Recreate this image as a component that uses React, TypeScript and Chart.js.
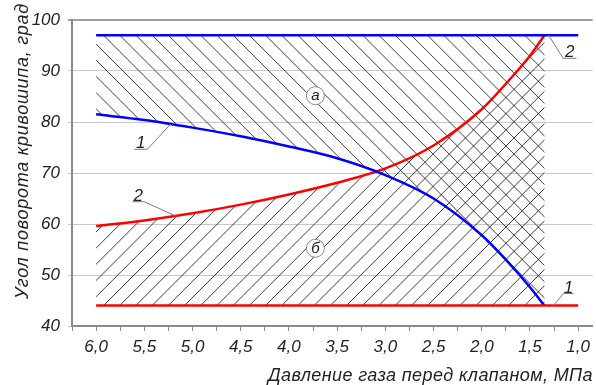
import { useEffect, useRef } from 'react';
import { Chart, registerables } from 'chart.js';

Chart.register(...registerables);

const FONT = "'Liberation Sans', Arial, sans-serif";

// Axis ranges: gas pressure (MPa, shown in reverse) and crank angle (degrees)
const pressureMin = 0.85;
const pressureMax = 6.25;
const pressureStep = 0.25;
const angleMin = 40;
const angleMax = 100;
const angleStep = 10;

// Horizontal limits
const limitPressure = [6.0, 1.0];
const upperLimitAngle = 97;
const lowerLimitAngle = 44;

// Curve 1 (blue)
const curve1Pressure = [6.0, 5.5, 5.0, 4.5, 4.0, 3.5, 3.0, 2.5, 2.0, 1.75, 1.5, 1.35];
const curve1Angle = [81.5, 80.4, 78.9, 77.2, 75.2, 72.9, 69.6, 65.0, 57.8, 53.0, 47.6, 44.0];

// Curve 2 (red)
const curve2Pressure = [6.0, 5.5, 5.0, 4.5, 4.0, 3.5, 3.0, 2.5, 2.0, 1.75, 1.5, 1.35];
const curve2Angle = [59.6, 60.7, 62.1, 63.8, 65.8, 68.1, 70.9, 75.4, 82.5, 87.5, 93.0, 97.0];

// Numbered callouts: point on the line -> elbow -> end of the shelf
const calloutText = ['1', '2', '2', '1'];
const calloutPointX = [5.227, 5.175, 1.309, 1.258];
const calloutPointY = [79.6, 61.57, 97.06, 43.98];
const calloutElbowX = [5.468, 5.502, 1.155, 1.152];
const calloutElbowY = [74.65, 64.37, 92.49, 46.37];
const calloutShelfEndX = [5.605, 5.623, 1.018, 1.049];

// Region markers
const regionText = ['а', 'б'];
const regionPressure = [3.726, 3.726];
const regionAngle = [85.16, 55.24];

const xTitle = 'Давление газа перед клапаном, МПа';
const yTitle = 'Угол поворота кривошипа, град';

const toPoints = (xs: number[], ys: number[]) => xs.map((x, i) => ({ x, y: ys[i] }));

function hatch(ctx: CanvasRenderingContext2D, area: any, dir: number, phase: number, step: number) {
  const { left, right, top, bottom } = area;
  ctx.beginPath();
  if (dir < 0) {
    // "\" lines: y = x + c
    const cMin = top - right;
    const cMax = bottom - left;
    for (let c = phase + Math.ceil((cMin - phase) / step) * step; c <= cMax; c += step) {
      ctx.moveTo(left, left + c);
      ctx.lineTo(right, right + c);
    }
  } else {
    // "/" lines: y = c - x
    const cMin = left + top;
    const cMax = right + bottom;
    for (let c = phase + Math.ceil((cMin - phase) / step) * step; c <= cMax; c += step) {
      ctx.moveTo(left, c - left);
      ctx.lineTo(right, c - right);
    }
  }
  ctx.stroke();
}

const hatchPlugin = {
  id: 'regionHatch',
  beforeDatasetsDraw(chart: any) {
    const { ctx, chartArea } = chart;
    const x = chart.scales.x;
    const y = chart.scales.y;
    const line1 = chart.getDatasetMeta(2).dataset;
    const line2 = chart.getDatasetMeta(3).dataset;
    if (line1.updateControlPoints) line1.updateControlPoints(chartArea, 'x');
    if (line2.updateControlPoints) line2.updateControlPoints(chartArea, 'x');

    const n1 = curve1Pressure.length - 1;
    const n2 = curve2Pressure.length - 1;
    const step = 16.2;

    ctx.save();
    ctx.strokeStyle = 'rgba(40,40,40,0.9)';
    ctx.lineWidth = 1;

    // Region а: between the upper limit and curve 1
    ctx.save();
    ctx.beginPath();
    line1.path(ctx);
    ctx.lineTo(x.getPixelForValue(curve1Pressure[n1]), y.getPixelForValue(upperLimitAngle));
    ctx.lineTo(x.getPixelForValue(curve1Pressure[0]), y.getPixelForValue(upperLimitAngle));
    ctx.closePath();
    ctx.clip();
    hatch(ctx, chartArea, -1, -181.7 % step, step);
    ctx.restore();

    // Region б: between curve 2 and the lower limit
    ctx.save();
    ctx.beginPath();
    line2.path(ctx);
    ctx.lineTo(x.getPixelForValue(curve2Pressure[n2]), y.getPixelForValue(lowerLimitAngle));
    ctx.lineTo(x.getPixelForValue(curve2Pressure[0]), y.getPixelForValue(lowerLimitAngle));
    ctx.closePath();
    ctx.clip();
    hatch(ctx, chartArea, 1, 409 % step, step);
    ctx.restore();

    // Circled region letters
    ctx.font = `italic 15px ${FONT}`;
    ctx.textAlign = 'center';
    ctx.textBaseline = 'middle';
    regionText.forEach((t, i) => {
      const px = x.getPixelForValue(regionPressure[i]);
      const py = y.getPixelForValue(regionAngle[i]);
      ctx.beginPath();
      ctx.arc(px, py, 9, 0, Math.PI * 2);
      ctx.fillStyle = '#ffffff';
      ctx.fill();
      ctx.strokeStyle = '#8a8a8a';
      ctx.lineWidth = 1;
      ctx.stroke();
      ctx.fillStyle = '#222222';
      ctx.fillText(t, px, py + 0.5);
    });
    ctx.restore();
  },
  afterDatasetsDraw(chart: any) {
    const { ctx } = chart;
    const x = chart.scales.x;
    const y = chart.scales.y;
    ctx.save();
    ctx.strokeStyle = '#7a7a7a';
    ctx.lineWidth = 1;
    ctx.fillStyle = '#222222';
    ctx.font = `italic 17px ${FONT}`;
    ctx.textAlign = 'center';
    ctx.textBaseline = 'alphabetic';
    calloutText.forEach((t, i) => {
      const p0x = x.getPixelForValue(calloutPointX[i]);
      const p0y = y.getPixelForValue(calloutPointY[i]);
      const ex = x.getPixelForValue(calloutElbowX[i]);
      const ey = y.getPixelForValue(calloutElbowY[i]);
      const sx = x.getPixelForValue(calloutShelfEndX[i]);
      ctx.beginPath();
      ctx.moveTo(p0x, p0y);
      ctx.lineTo(ex, ey);
      ctx.lineTo(sx, ey);
      ctx.stroke();
      ctx.fillText(t, (ex + sx) / 2, ey - 1);
    });
    ctx.restore();
  },
  afterDraw(chart: any) {
    const { ctx } = chart;
    ctx.save();
    ctx.fillStyle = '#222222';
    ctx.font = `italic 18px ${FONT}`;
    ctx.textAlign = 'left';
    ctx.textBaseline = 'alphabetic';
    const spaced = (text: string, width: number) => {
      (ctx as any).letterSpacing = '0px';
      const w = ctx.measureText(text).width;
      (ctx as any).letterSpacing = `${(width - w) / text.length}px`;
    };
    // X title
    spaced(xTitle, 325);
    ctx.fillText(xTitle, 268, 381);
    // Y title
    ctx.save();
    ctx.translate(28, 299);
    ctx.rotate(-Math.PI / 2);
    spaced(yTitle, 296);
    ctx.fillText(yTitle, 0, 0);
    ctx.restore();
    (ctx as any).letterSpacing = '0px';
    ctx.restore();
  },
};

export default function App() {
  const ref = useRef<HTMLCanvasElement | null>(null);

  useEffect(() => {
    if (!ref.current) return;
    const chart = new Chart(ref.current, {
      type: 'line',
      data: {
        datasets: [
          {
            data: toPoints(limitPressure, [upperLimitAngle, upperLimitAngle]),
            borderColor: '#0000ff',
            borderWidth: 2.5,
            pointRadius: 0,
          },
          {
            data: toPoints(limitPressure, [lowerLimitAngle, lowerLimitAngle]),
            borderColor: '#ff0000',
            borderWidth: 2.5,
            pointRadius: 0,
          },
          {
            data: toPoints(curve1Pressure, curve1Angle),
            borderColor: '#0000ff',
            borderWidth: 2.5,
            pointRadius: 0,
            cubicInterpolationMode: 'monotone',
          },
          {
            data: toPoints(curve2Pressure, curve2Angle),
            borderColor: '#ff0000',
            borderWidth: 2.5,
            pointRadius: 0,
            cubicInterpolationMode: 'monotone',
          },
        ] as any,
      },
      options: {
        animation: false,
        responsive: false,
        devicePixelRatio: 1,
        layout: { padding: { top: 20, right: 0, bottom: 0, left: 0 } },
        plugins: { legend: { display: false }, tooltip: { enabled: false } },
        scales: {
          x: {
            type: 'linear',
            reverse: true,
            min: pressureMin,
            max: pressureMax,
            afterFit: (s: any) => { s.height = 59; },
            border: { color: '#8a8a8a', width: 2 },
            grid: { drawOnChartArea: false, drawTicks: true, tickLength: 5, color: '#8a8a8a' },
            ticks: {
              stepSize: pressureStep,
              autoSkip: false,
              includeBounds: false,
              maxRotation: 0,
              padding: 6,
              color: '#222222',
              font: { family: FONT, size: 17, style: 'italic' },
              callback: (v: any) => {
                const d = Number(v) * 2;
                return Math.abs(d - Math.round(d)) < 1e-6 ? Number(v).toFixed(1).replace('.', ',') : '';
              },
            },
          },
          y: {
            type: 'linear',
            min: angleMin,
            max: angleMax,
            afterFit: (s: any) => { s.width = 72; },
            border: { color: '#8a8a8a', width: 2 },
            grid: {
              color: (c: any) => (c.tick && c.tick.value === angleMax ? '#a0a0a0' : '#c8c8c8'),
              lineWidth: (c: any) => (c.tick && c.tick.value === angleMax ? 2 : 1),
              tickLength: 4,
            },
            ticks: {
              stepSize: angleStep,
              padding: 8,
              color: '#222222',
              font: { family: FONT, size: 17, style: 'italic' },
            },
          },
        },
      } as any,
      plugins: [hatchPlugin],
    });
    return () => chart.destroy();
  }, []);

  return (
    <div style={{ position: 'fixed', left: 0, top: 0, width: 596, height: 385, background: '#ffffff' }}>
      <canvas ref={ref} width={596} height={385} style={{ width: 596, height: 385, display: 'block' }} />
    </div>
  );
}
